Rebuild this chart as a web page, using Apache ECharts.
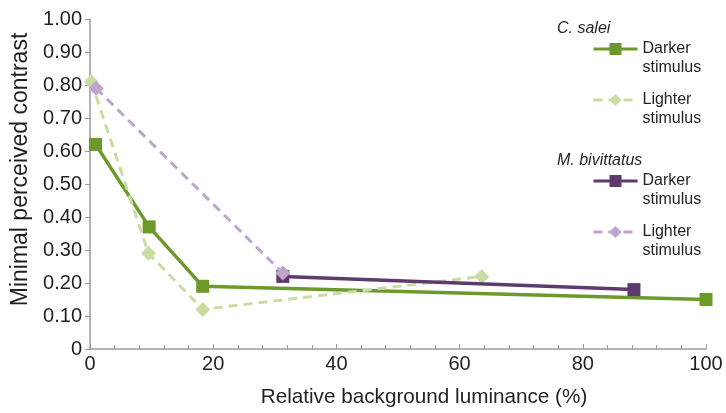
<!DOCTYPE html>
<html><head><meta charset="utf-8">
<script src="https://cdn.jsdelivr.net/npm/echarts@6/dist/echarts.min.js"></script>
<style>html,body{margin:0;padding:0;background:#fff}#c{width:726px;height:413px}</style>
</head><body><div id="c"></div>
<script>
const saleiDarker = [[0.9, 0.62], [9.6, 0.37], [18.3, 0.19], [100, 0.15]];
const saleiLighter = [[0.2, 0.81], [9.5, 0.29], [18.3, 0.12], [63.6, 0.22]];
const bivDarker = [[31.3, 0.22], [88.3, 0.18]];
const bivLighter = [[1.0, 0.79], [31.3, 0.23]];
const seriesNames = ['C. salei darker', 'C. salei lighter', 'M. bivittatus darker', 'M. bivittatus lighter'];
const legendLabels = ['Darker\nstimulus', 'Lighter\nstimulus', 'Darker\nstimulus', 'Lighter\nstimulus'];
const groupTitles = ['C. salei', 'M. bivittatus'];
const xTitle = 'Relative background luminance (%)';
const yTitle = 'Minimal perceived contrast';

const C_DG = '#6b9a2b', C_LG = '#c9dda3', C_DP = '#5f3a6e', C_LP = '#bfa5cb';
const FONT = 'Liberation Sans, Arial, sans-serif';
const TXT = '#231f20';

function mkLegend(i, top) {
  return {
    data: [seriesNames[i]], left: 592, top: top, padding: 0,
    itemWidth: 44, itemHeight: 15, itemGap: 0,
    formatter: () => '\n' + legendLabels[i],
    textStyle: { fontFamily: FONT, fontSize: 16, color: TXT, lineHeight: 19 },
    lineStyle: { width: 3 },
    selectedMode: false
  };
}

const chart = echarts.init(document.getElementById('c'), null, { renderer: 'canvas' });
chart.setOption({
  animation: false,
  grid: { left: 90, right: 20, top: 19, bottom: 61 },
  xAxis: {
    type: 'value', min: 0, max: 100, interval: 20,
    name: xTitle, nameLocation: 'middle', nameGap: 38,
    nameTextStyle: { fontFamily: FONT, fontSize: 20.7, color: TXT, padding: [0, 0, 0, 52] },
    axisLine: { show: true, lineStyle: { color: '#9a9a9a', width: 1.5 } },
    axisTick: { show: true, inside: true, length: 5, lineStyle: { color: '#9a9a9a' } },
    minorTick: { show: true, splitNumber: 5, length: 4, lineStyle: { color: '#9a9a9a' } },
    axisLabel: { fontFamily: FONT, fontSize: 20, color: TXT, margin: 5 },
    splitLine: { show: false }
  },
  yAxis: {
    type: 'value', min: 0, max: 1, interval: 0.1,
    name: yTitle, nameLocation: 'middle', nameGap: 52,
    nameTextStyle: { fontFamily: FONT, fontSize: 23, color: TXT, padding: [0, 0, 0, 29] },
    axisLine: { show: true, lineStyle: { color: '#9a9a9a', width: 1.5 } },
    axisTick: { show: true, inside: false, length: 5, lineStyle: { color: '#9a9a9a' } },
    axisLabel: { fontFamily: FONT, fontSize: 20, color: TXT, margin: 8,
      formatter: v => v === 0 ? '0' : v.toFixed(2) },
    splitLine: { show: false }
  },
  legend: [mkLegend(0, 20.5), mkLegend(1, 71.5), mkLegend(2, 152.5), mkLegend(3, 203.5)],
  graphic: [
    { type: 'text', left: 557, top: 21, style: { text: groupTitles[0], font: 'italic 16px ' + FONT, fill: TXT } },
    { type: 'text', left: 557, top: 153, style: { text: groupTitles[1], font: 'italic 16px ' + FONT, fill: TXT } }
  ],
  series: [
    { name: seriesNames[0], type: 'line', data: saleiDarker, symbol: 'rect', symbolSize: 13,
      lineStyle: { color: C_DG, width: 3.5 }, itemStyle: { color: C_DG }, z: 2 },
    { name: seriesNames[1], type: 'line', data: saleiLighter, symbol: 'diamond', symbolSize: 15,
      lineStyle: { color: C_LG, width: 3, type: [9, 6] }, itemStyle: { color: C_LG }, z: 3 },
    { name: seriesNames[2], type: 'line', data: bivDarker, symbol: 'rect', symbolSize: 13,
      lineStyle: { color: C_DP, width: 3.5 }, itemStyle: { color: C_DP }, z: 4 },
    { name: seriesNames[3], type: 'line', data: bivLighter, symbol: 'diamond', symbolSize: 15,
      lineStyle: { color: C_LP, width: 3, type: [9, 6] }, itemStyle: { color: C_LP }, z: 5 }
  ]
});
</script></body></html>
